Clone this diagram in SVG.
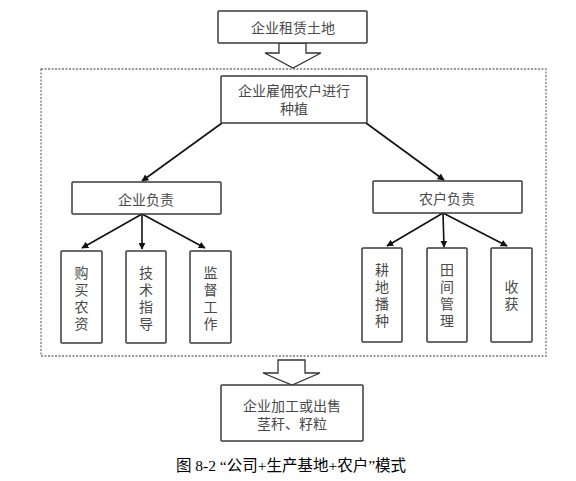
<svg xmlns="http://www.w3.org/2000/svg" width="576" height="481" viewBox="0 0 576 481">
<defs>
<style>
.box{fill:#fff;stroke:#3a3a3a;stroke-width:1.5}
.t{font-family:"Noto Sans CJK SC","Liberation Serif",serif;font-size:14px;fill:#4a4a4a;text-anchor:middle;dominant-baseline:central}
.cap{font-family:"Liberation Serif","Noto Sans CJK SC",sans-serif;font-size:15.5px;fill:#000;text-anchor:middle;dominant-baseline:central}
.ln{stroke:#111;stroke-width:1.6;fill:none;marker-end:url(#ah)}
.blk{fill:#fff;stroke:#333;stroke-width:1.3}
</style>
<marker id="ah" viewBox="0 0 10 10" refX="9" refY="5" markerWidth="7" markerHeight="7" orient="auto" markerUnits="userSpaceOnUse">
<path d="M0,0 L10,5 L0,10 z" fill="#111"/>
</marker>
</defs>
<rect x="0" y="0" width="576" height="481" fill="#fff"/>
<rect x="41" y="69" width="505" height="287" fill="none" stroke="#777" stroke-width="1.3" stroke-dasharray="2,1.5"/>
<g id="connectors">
<path class="blk" d="M279,43 L306,43 L306,53 L321,53 L293,68 L265,53 L279,53 Z"/>
<path class="blk" d="M278,360 L305,360 L305,373 L320,373 L292,385 L263,373 L278,373 Z"/>
<line class="ln" x1="222" y1="123" x2="142" y2="181"/>
<line class="ln" x1="366" y1="123" x2="444" y2="180"/>
<line class="ln" x1="142" y1="214" x2="82" y2="248"/>
<line class="ln" x1="142" y1="214" x2="142" y2="249"/>
<line class="ln" x1="142" y1="214" x2="205" y2="248"/>
<line class="ln" x1="443" y1="213" x2="387" y2="246"/>
<line class="ln" x1="443" y1="213" x2="444" y2="247"/>
<line class="ln" x1="443" y1="213" x2="507" y2="246"/>
</g>
<g id="n1"><rect class="box" x="218" y="11" width="149" height="32" rx="1"/><text class="t" x="293" y="27">企业租赁土地</text></g>
<g id="n2"><rect class="box" x="221" y="76" width="146" height="47" rx="1"/><text class="t" x="294" y="90">企业雇佣农户进行</text><text class="t" x="294" y="108">种植</text></g>
<g id="n3"><rect class="box" x="72" y="182" width="149" height="32" rx="1"/><text class="t" x="146" y="199">企业负责</text></g>
<g id="n4"><rect class="box" x="373" y="181" width="149" height="32" rx="1"/><text class="t" x="447" y="198">农户负责</text></g>
<g id="n5"><rect class="box" x="61" y="251" width="41" height="92" rx="1"/><text class="t" x="81.5" y="272">购</text><text class="t" x="81.5" y="289">买</text><text class="t" x="81.5" y="306">农</text><text class="t" x="81.5" y="323">资</text></g>
<g id="n6"><rect class="box" x="126" y="251" width="40" height="92" rx="1"/><text class="t" x="146" y="272">技</text><text class="t" x="146" y="289">术</text><text class="t" x="146" y="306">指</text><text class="t" x="146" y="323">导</text></g>
<g id="n7"><rect class="box" x="190" y="251" width="41" height="92" rx="1"/><text class="t" x="210.5" y="272">监</text><text class="t" x="210.5" y="289">督</text><text class="t" x="210.5" y="306">工</text><text class="t" x="210.5" y="323">作</text></g>
<g id="n8"><rect class="box" x="362" y="248" width="40" height="94" rx="1"/><text class="t" x="382" y="269">耕</text><text class="t" x="382" y="286">地</text><text class="t" x="382" y="303">播</text><text class="t" x="382" y="320">种</text></g>
<g id="n9"><rect class="box" x="427" y="248" width="40" height="94" rx="1"/><text class="t" x="447" y="269">田</text><text class="t" x="447" y="286">间</text><text class="t" x="447" y="303">管</text><text class="t" x="447" y="320">理</text></g>
<g id="n10"><rect class="box" x="491" y="248" width="41" height="94" rx="1"/><text class="t" x="511.5" y="286">收</text><text class="t" x="511.5" y="303">获</text></g>
<g id="n11"><rect class="box" x="221" y="385" width="142" height="56" rx="1"/><text class="t" x="292" y="405">企业加工或出售</text><text class="t" x="292" y="423">茎秆、籽粒</text></g>
<text class="cap" x="291" y="465">图 8-2 “公司+生产基地+农户”模式</text>
</svg>
